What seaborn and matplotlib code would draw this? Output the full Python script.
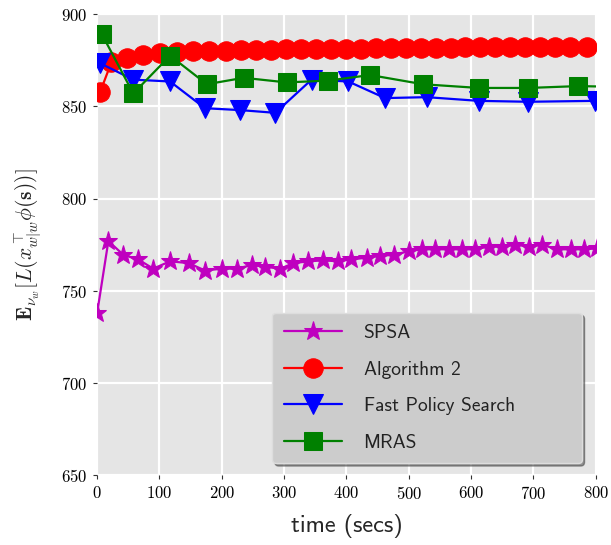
import pandas as pd
import seaborn as sns
import matplotlib.pyplot as plt

# SPSA
spsa_t = [0, 18, 42, 66, 90, 117, 147, 173, 200, 224, 248, 270, 294, 315, 339, 363,
          387, 408, 433, 454, 476, 500, 521, 542, 564, 585, 607, 628, 650, 671, 693,
          714, 738, 760, 781, 802]
spsa_v = [738, 777, 769.5, 767, 762, 766, 765, 761, 762, 762, 764, 763, 762, 765, 766,
          766.5, 766, 767, 768, 769, 769.5, 771.5, 772.5, 772.5, 772.5, 772.5, 772.5,
          774, 774, 775, 774, 775, 772.5, 772.5, 772.5, 773]

# Algorithm 2
alg_t = [5, 23, 48, 74, 101, 128, 154, 180, 207, 231, 255, 279, 303, 327, 351, 375,
         399, 423, 447, 471, 495, 519, 543, 567, 591, 615, 639, 663, 687, 711, 735,
         759, 786]
alg_v = [858, 874, 876.5, 878, 879, 879.5, 880, 880, 880, 880.5, 880.5, 880.5, 881,
         881, 881, 881, 881, 881, 881.5, 881.5, 881.5, 881.5, 881.5, 881.5, 882, 882,
         882, 882, 882, 882, 882, 882, 882]

# Fast Policy Search
fps_t = [4, 58, 117, 173, 229, 286, 344, 403, 462, 529, 612, 692, 799]
fps_v = [873.5, 864.5, 863.5, 849, 848, 846.5, 864.5, 863.5, 854.5, 855, 853, 852.5, 853]

# MRAS
mras_t = [7, 58, 117, 176, 235, 304, 371, 438, 523, 612, 692, 772, 852]
mras_v = [889.5, 857, 877.5, 862, 865.5, 863, 864, 867, 862, 860, 860, 861, 860.5]

series = [
    ("SPSA", spsa_t, spsa_v, "m", "*", 14),
    ("Algorithm 2", alg_t, alg_v, "red", "o", 14),
    ("Fast Policy Search", fps_t, fps_v, "blue", "v", 14),
    ("MRAS", mras_t, mras_v, "green", "s", 13),
]

sns.set_style("darkgrid", {"axes.facecolor": "#E5E5E5", "grid.color": "white",
                           "xtick.bottom": True, "ytick.left": True})
plt.rcParams["axes.formatter.use_mathtext"] = True
plt.rcParams["mathtext.fontset"] = "cm"

fig = plt.figure(figsize=(6.11, 5.45), dpi=100)
ax = fig.add_axes([0.159, 0.128, 0.816, 0.846])

for name, t, v, col, mk, ms in series:
    df = pd.DataFrame({"time": t, "value": v})
    sns.lineplot(data=df, x="time", y="value", color=col, marker=mk, markersize=ms,
                 markeredgecolor=col, linewidth=1.6, label=name, ax=ax, sort=False)

ax.set_xlim(0, 800)
ax.set_ylim(650, 900)
ax.set_xticks(range(0, 801, 100))
ax.set_yticks(range(650, 901, 50))
ax.grid(True, color="white", linewidth=1.6)
for s in ax.spines.values():
    s.set_visible(False)
ax.tick_params(axis="both", length=3, width=0.8, color="#333333", labelsize=12,
               labelcolor="black", pad=4)
for lab in ax.get_xticklabels() + ax.get_yticklabels():
    lab.set_fontfamily("cmr10")

ax.set_xlabel("time (secs)", fontsize=17.5, family="cmss10", labelpad=9)
ax.set_ylabel(r"$\mathbf{E}_{\nu_w}[L(x_{w|w}^{\top}\phi(\mathbf{s}))]$", fontsize=15.5,
              labelpad=13)

leg = ax.legend(loc="lower left", bbox_to_anchor=(0.351, 0.026, 0.621, 0.332),
                mode="expand", borderaxespad=0, fancybox=True, shadow=True,
                handlelength=3.0, handletextpad=1.1, labelspacing=0.95,
                borderpad=0.6, facecolor="#CCCCCC", edgecolor="#DDDDDD",
                framealpha=1.0, prop={"family": "cmss10", "size": 14})
for txt in leg.get_texts():
    txt.set_color("#222222")

fig.savefig("out.png", dpi=100)
